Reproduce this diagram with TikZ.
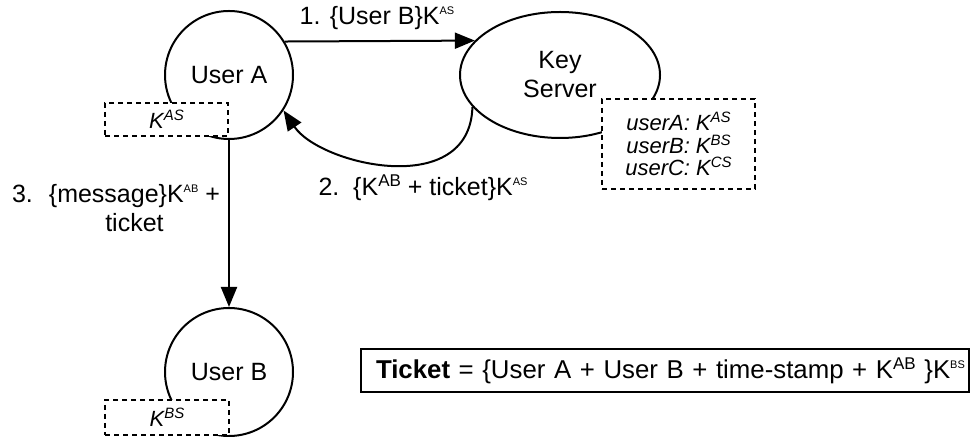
\documentclass[tikz,border=0pt]{standalone}
\usepackage{fontspec}
\setmainfont{Liberation Sans}
\usetikzlibrary{arrows.meta,shapes.geometric}
\newcommand{\mysmsup}[1]{\raisebox{5pt}{\fontsize{5.5pt}{5.5pt}\selectfont #1}}
\newcommand{\mybgsup}[1]{\raisebox{4.5pt}{\fontsize{8.5pt}{8.5pt}\selectfont #1}}
\newcommand{\myitsup}[1]{\raisebox{4pt}{\fontsize{7.5pt}{7.5pt}\selectfont\itshape #1}}
\begin{document}
\begin{tikzpicture}[x=0.5pt,y=-0.5pt,line width=1pt,
  font=\fontsize{12.5pt}{14.5pt}\selectfont,
  user/.style={circle,draw,minimum size=64pt,inner sep=0pt},
  server/.style={ellipse,draw,minimum width=100pt,minimum height=63pt,inner sep=0pt,align=center},
  keybox/.style={draw,fill=white,dash pattern=on 2.5pt off 2pt,inner sep=0pt,
    font=\fontsize{11pt}{11.25pt}\selectfont\itshape,align=center},
  msg/.style={-{Triangle[length=10pt,width=8pt]}},
  lbl/.style={inner sep=0pt}
]
\useasboundingbox (0,0) rectangle (973,437);
\node[user] (ua) at (229,75) {User A};
\node[server] (ks) at (560,75) {Key\\Server};
\node[user] (ub) at (229,372) {User B};
\node[keybox,minimum width=61.5pt,minimum height=16.5pt] (kas) at (166.5,119.5) {K\myitsup{AS}};
\node[keybox,minimum width=76.5pt,minimum height=45pt] (kss) at (678.5,144) {userA: K\myitsup{AS}\\userB: K\myitsup{BS}\\userC: K\myitsup{CS}};
\node[keybox,minimum width=62pt,minimum height=17.5pt] (kbs) at (167,417.5) {K\myitsup{BS}};
\node[draw,anchor=west,text width=289pt,inner xsep=7.5pt,inner ysep=0pt,minimum height=21.5pt,align=left,
  font=\fontsize{12.9pt}{15pt}\selectfont] (tk) at (360,370.5)
  {\mbox{\textbf{Ticket} = \{User A + User B + time-stamp + K\mybgsup{AB} \}K\mysmsup{BS}}};
\draw[msg] (ua.31) -- (ks.158.8);
\draw[msg] (ks.200) .. controls (470,200) and (320,165) .. (ua.-33);
\draw[msg] (ua.south) -- (ub.north);
\node[lbl] (l1) at (377,18) {1. \{User B\}K\mysmsup{AS}};
\node[lbl] (l2) at (423,188) {2.\ \ \{K\mybgsup{AB} + ticket\}K\mysmsup{AS}};
\node[lbl] (l3) at (116,211) {\begin{tabular}{@{}l@{\hspace{8pt}}c@{}}3. & \{message\}K\mysmsup{AB} +\\ & ticket\end{tabular}};
\end{tikzpicture}
\end{document}
